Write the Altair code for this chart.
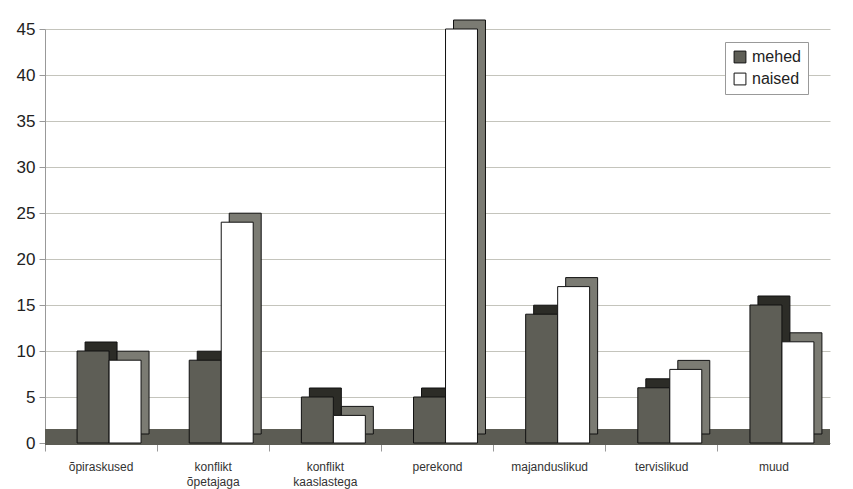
import altair as alt
import pandas as pd

categories = ["õpiraskused", "konflikt õpetajaga", "konflikt kaaslastega", "perekond",
              "majanduslikud", "tervislikud", "muud"]
mehed = [10, 9, 5, 5, 14, 6, 15]
naised = [9, 24, 3, 45, 17, 8, 11]
series = ["mehed", "naised"]

rows = []
for c, m, n in zip(categories, mehed, naised):
    rows.append({"kategooria": c, "sugu": "mehed", "väärtus": m})
    rows.append({"kategooria": c, "sugu": "naised", "väärtus": n})
df = pd.DataFrame(rows)

W, H = 785, 414
FONT = "Liberation Sans"
BAR_W = 0.285
DX, DY = 8, 9

x_enc = alt.X("kategooria:N", sort=categories, title=None,
              scale=alt.Scale(paddingInner=0, paddingOuter=0),
              axis=alt.Axis(labelAngle=0, labelExpr="split(datum.label, ' ')",
                            labelFontSize=12, labelColor="#333", labelFont=FONT,
                            bandPosition=0, tickSize=8, tickColor="#999",
                            domainColor="#999", labelPadding=10, labelLineHeight=15))
y_enc = alt.Y("väärtus:Q", title=None,
              scale=alt.Scale(domain=[0, 45], nice=False),
              axis=alt.Axis(values=list(range(0, 46, 5)), labelFontSize=17,
                            labelColor="#222", labelFont=FONT, grid=True,
                            gridColor="#c4c4bc", domainColor="#999", tickColor="#999",
                            tickSize=6, labelPadding=4))
fill_scale = alt.Scale(domain=series, range=["#5e5e56", "#ffffff"])
legend = alt.Legend(orient="none", legendX=680, legendY=13,
                    symbolType="square", symbolSize=140,
                    symbolStrokeColor="#111", symbolStrokeWidth=1,
                    labelFontSize=16, labelFont=FONT, labelColor="#222",
                    fillColor="white", strokeColor="#999",
                    padding=7, rowPadding=6)

base = alt.Chart(df)

floor = alt.Chart(pd.DataFrame({"a": [0]})).mark_rect(
    color="#5c5c54", yOffset=-14, y2Offset=2
).encode(x=alt.value(0), x2=alt.value(W), y=alt.datum(0), y2=alt.datum(0))

shift = {"mehed": -16 + 8, "naised": 16 + 8}
shadow_col = {"mehed": "#2c2c27", "naised": "#7b7b73"}

shadows = []
fronts = []
for s in series:
    sub = base.transform_filter(alt.datum.sugu == s)
    shadows.append(sub.mark_bar(width=alt.RelativeBandSize(BAR_W), xOffset=shift[s] + DX,
                                yOffset=-DY, y2Offset=-DY, stroke="#111", strokeWidth=1,
                                fill=shadow_col[s]).encode(
        x=x_enc, y=y_enc, y2=alt.datum(0)))
    fronts.append(sub.mark_bar(width=alt.RelativeBandSize(BAR_W), xOffset=shift[s],
                               stroke="#111", strokeWidth=1).encode(
        x=x_enc, y=y_enc, y2=alt.datum(0),
        fill=alt.Fill("sugu:N", sort=series, title=None, scale=fill_scale, legend=legend)))

chart = alt.layer(floor, *shadows, *fronts).properties(
    width=W, height=H,
    autosize=alt.AutoSizeParams(type="none"),
    padding={"left": 45, "top": 29, "right": 23, "bottom": 46},
    background="white",
).configure_view(stroke=None)

chart.save("out.html", embed_options={"renderer": "svg", "actions": False})
